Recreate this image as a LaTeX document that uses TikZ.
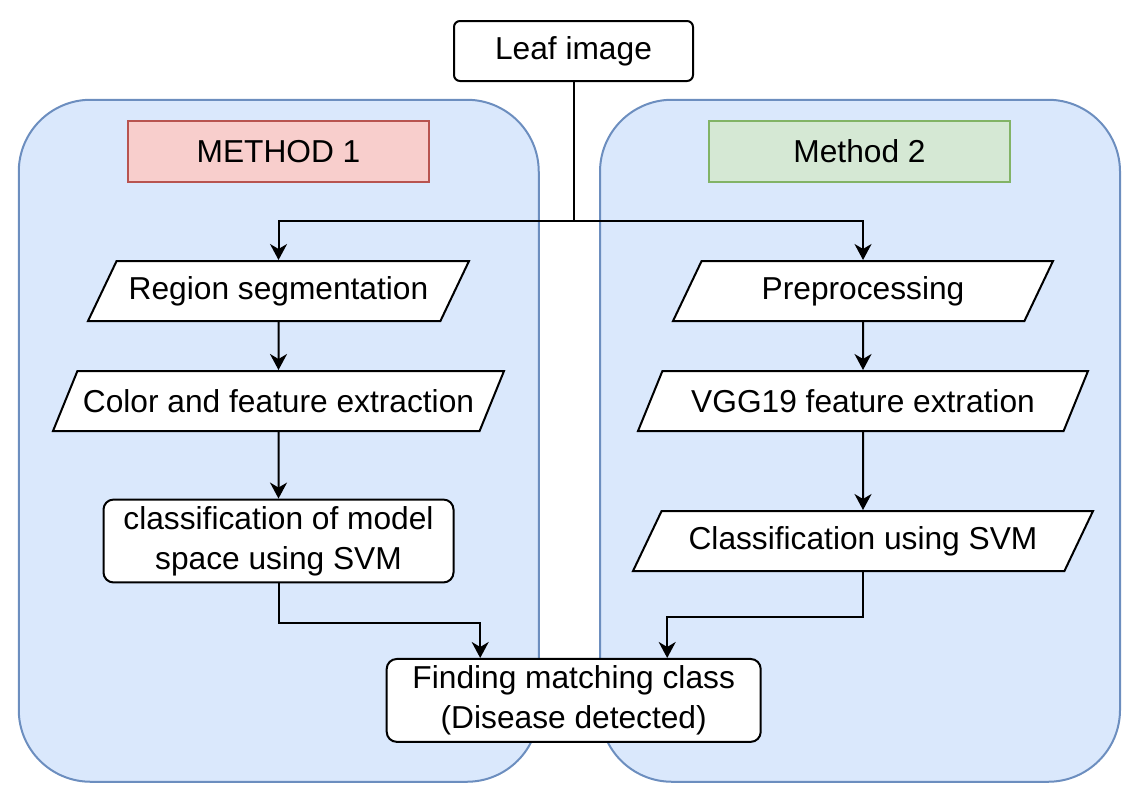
\documentclass[tikz,border=0pt]{standalone}
\usepackage{fontspec}
\setmainfont{Liberation Sans}
\usepackage{tikz}
\usetikzlibrary{shapes.geometric}
\usetikzlibrary{arrows.meta}
\definecolor{grpfill}{HTML}{DAE8FC}
\definecolor{grpline}{HTML}{6C8EBF}
\definecolor{redfill}{HTML}{F8CECC}
\definecolor{redline}{HTML}{B85450}
\definecolor{greenfill}{HTML}{D5E8D4}
\definecolor{greenline}{HTML}{82B366}
\tikzset{every node/.style={font=\fontsize{15.85}{20}\selectfont}}
\tikzset{groupbox/.style={shape=rectangle, rounded corners=36pt, draw=grpline, fill=grpfill, line width=1pt, minimum width=260pt, minimum height=341pt}}
\tikzset{methodbox/.style={shape=rectangle, line width=0.8pt, minimum width=150.5pt, minimum height=30.5pt}}
\tikzset{iobox/.style={trapezium, trapezium left angle=56.3, trapezium right angle=123.7, trapezium stretches body, draw=black, fill=white, line width=1pt, minimum height=30pt, inner xsep=2pt}}
\tikzset{procbox/.style={shape=rectangle, rounded corners=5pt, draw=black, fill=white, line width=1pt, align=center}}

\begin{document}
\begin{tikzpicture}[x=0.5pt, y=-0.5pt, >={Stealth[length=8pt,width=8.5pt,inset=2.5pt]}, line width=1pt]
		\useasboundingbox (0,0) rectangle (1144,794);
		% the two method panels
		\node[groupbox] (grpA) at (278.75,440.75) {};
		\node[groupbox] (grpB) at (860,440.75) {};
		\node[methodbox, draw=redline, fill=redfill] (m1) at (278.5,151.5) {METHOD 1};
		\node[methodbox, draw=greenline, fill=greenfill] (m2) at (859.5,151.5) {Method 2};
		\node[procbox, rounded corners=3pt, minimum width=119.5pt, minimum height=30pt] (leaf) at (573.5,51) {Leaf image};
		% method 1
		\node[iobox, minimum width=190.5pt] (seg) at (278.5,291) {Region segmentation};
		\node[iobox, minimum width=225.5pt] (col) at (278.5,401) {Color and feature extraction};
		\node[procbox, minimum width=175pt, minimum height=40pt] (svmA) at (278.5,541) {classification of model\\space using SVM};
		% method 2
		\node[iobox, minimum width=190pt] (prep) at (863,291) {Preprocessing};
		\node[iobox, minimum width=225pt] (vgg) at (863,401) {VGG19 feature extration};
		\node[iobox, minimum width=230pt] (svmB) at (863,541) {Classification using SVM};
		\node[procbox, minimum width=187pt, minimum height=40pt] (find) at (573.7,700.4) {Finding matching class\\(Disease detected)};
		\coordinate (split) at (573.5,220.5);
		\draw (leaf) -- (split);
		\draw [->] (split) -| (seg);
		\draw [->] (split) -| (prep);
		\draw [->] (seg) -- (col);
		\draw [->] (col) -- (svmA);
		\draw [->] (prep) -- (vgg);
		\draw [->] (vgg) -- (svmB);
		\draw [->] (svmA.south) -- ++(0,40) -| ([xshift=-46.75pt]find.north);
		\draw [->] (svmB.south) -- ++(0,45) -| ([xshift=46.75pt]find.north);
	\end{tikzpicture}
\end{document}
